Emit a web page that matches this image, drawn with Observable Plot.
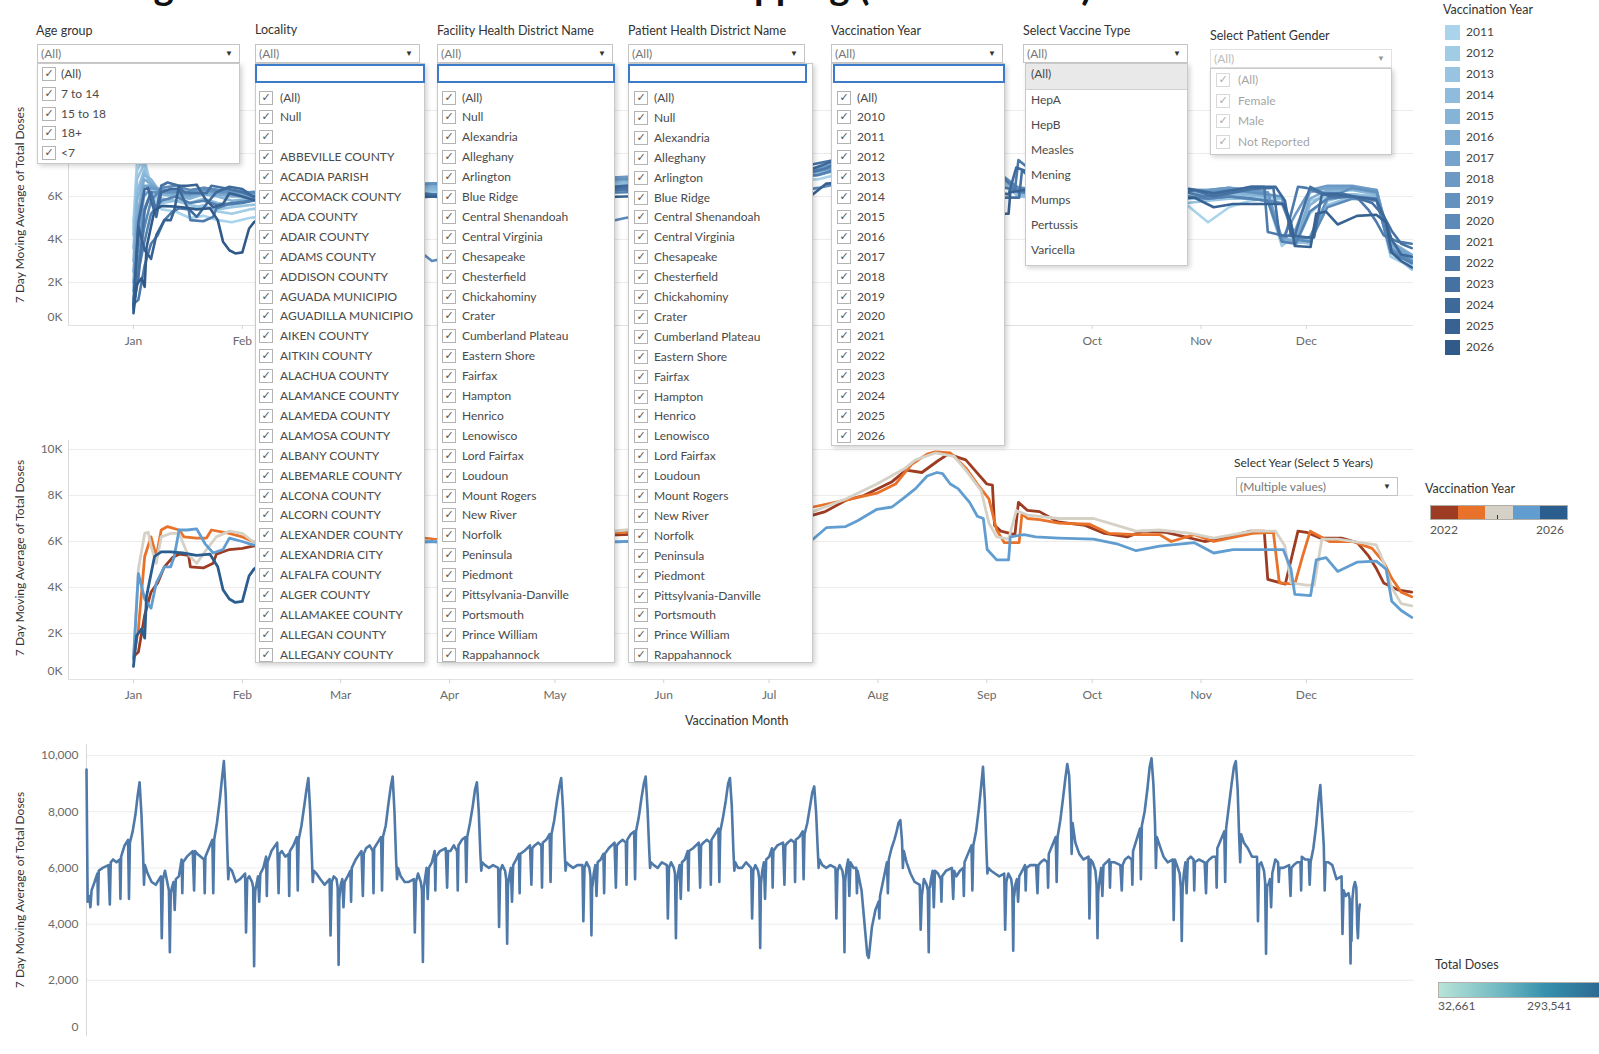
<!DOCTYPE html>
<html><head><meta charset="utf-8">
<script src="https://cdn.jsdelivr.net/npm/d3@7"></script>
<script src="https://cdn.jsdelivr.net/npm/@observablehq/plot@0.6"></script>
<style>
html,body{margin:0;padding:0;background:#fff;}
body{width:1599px;height:1054px;overflow:hidden;position:relative;font-family:Lato,"Open Sans",sans-serif;color:#333;}
.chart{position:absolute;left:0;z-index:1;}
#title{position:absolute;left:30px;top:-35px;font:bold 38.5px Lato,sans-serif;color:#111;white-space:nowrap;line-height:40px;z-index:2;}
.t{position:absolute;white-space:nowrap;font-size:12px;line-height:16px;color:#333;z-index:6;}
.dd{position:absolute;height:19px;border:1px solid #c4c4c4;background:#fff;box-sizing:border-box;font-size:12px;line-height:17px;color:#777;padding-left:3px;z-index:6;}
.dd .arr{position:absolute;right:6px;top:0;font-size:8px;color:#333;}
.search{position:absolute;height:19px;border:2px solid #3b7bca;background:#fff;box-sizing:border-box;z-index:7;}
.list{position:absolute;background:#fff;border:1px solid #c9c9c9;box-sizing:border-box;box-shadow:2px 2px 5px rgba(0,0,0,0.18);z-index:5;}
.cb{position:absolute;width:12px;height:12px;border:1px solid #b3b3b3;background:#fff;font-size:11px;line-height:12px;text-align:center;color:#555;z-index:7;font-family:"DejaVu Sans",sans-serif;}
.ytitle{position:absolute;width:280px;text-align:center;transform:rotate(-90deg);font-size:12px;line-height:16px;color:#333;white-space:nowrap;z-index:2;}
</style></head>
<body>
<div id="title">Tracking Vaccine Doses Over Time and Mapping (2011 - 2026)</div>
<script>
// ---------------- DATA ----------------
const MONTH_DAYS = [0,31,59,90,120,151,181,212,243,273,304,334];
const MONTH_NAMES = ["Jan","Feb","Mar","Apr","May","Jun","Jul","Aug","Sep","Oct","Nov","Dec"];
const TOP_VISIBLE_MONTHS = [0,31,273,304,334];   // month ticks of the top chart not hidden by the filter lists
const Y_TICKS = [0,2000,4000,6000,8000,10000];
const TOP_VISIBLE_Y = [2000,4000,6000];          // y labels of the top chart not hidden by the Age group list

const LEGEND_YEARS = ["2011","2012","2013","2014","2015","2016","2017","2018","2019","2020","2021","2022","2023","2024","2025","2026"];

// Top chart: years 2011-2021 at shared key days (values in thousands)
const TOP_DAYS = [0,1,3,5,8,12,16,20,24,28,33,60,85,140,195,215,230,245,252,275,300,306,312,318,323,327,331,335,340,347,354,358,364];
const TOP_2011 = [4.8,7.6,7.4,6.2,5.4,5.3,5.0,5.1,4.9,4.8,5.0, 5.6,6.0,6.2,6.8,7.6,8.7,7.0,6.0,5.7, 5.6,4.8,5.5,5.8,5.9,4.0,3.8,5.2,6.0,6.1,6.0,3.6,2.8];
const TOP_2012 = [4.5,7.2,7.8,6.5,5.6,5.5,5.4,5.6,5.3,5.2,5.4, 5.9,6.2,6.3,7.0,7.9,9.2,7.2,6.2,6.0, 5.9,5.9,6.0,5.9,5.8,3.7,4.2,5.8,6.0,6.1,5.9,3.2,2.7];
const TOP_2013 = [4.2,6.8,7.5,6.4,5.7,5.8,5.6,5.5,5.4,5.5,5.6, 6.0,6.3,6.5,7.0,7.8,8.9,7.0,6.0,5.8, 5.7,5.8,5.9,5.9,5.8,5.9,3.9,3.8,5.6,6.0,5.9,3.4,2.6];
const TOP_2014 = [3.6,6.2,7.2,6.6,5.9,5.8,5.7,5.9,5.7,5.6,5.8, 6.1,6.3,6.6,7.1,8.0,9.0,7.1,6.1,5.9, 6.0,6.0,6.1,6.0,6.0,5.9,3.8,4.0,5.8,6.1,6.0,3.5,2.9];
const TOP_2015 = [3.0,5.8,7.0,6.8,6.1,6.0,5.9,6.1,6.0,5.8,5.9, 6.2,6.4,6.7,7.1,7.9,8.8,7.2,6.3,6.1, 6.2,6.1,6.2,6.1,6.0,4.0,3.9,5.6,6.2,6.3,6.1,3.7,3.1];
const TOP_2016 = [2.5,5.0,6.8,6.6,6.2,6.1,6.0,6.2,6.1,6.0,6.0, 6.3,6.5,6.8,7.2,8.0,8.9,7.2,6.3,6.2, 6.3,6.2,6.3,6.2,6.1,4.1,3.9,5.9,6.3,6.4,6.2,3.9,3.3];
const TOP_2017 = [2.0,4.6,6.5,6.5,6.3,6.2,6.1,6.3,6.2,6.1,6.1, 6.3,6.6,6.9,7.3,8.1,9.0,7.3,6.4,6.2, 6.3,6.3,6.4,6.3,6.2,3.9,4.5,6.2,6.4,6.4,6.3,3.8,3.2];
const TOP_2018 = [1.6,4.0,6.0,6.4,6.3,6.3,6.2,6.4,6.3,6.2,6.2, 6.4,6.6,6.9,7.3,8.1,9.0,7.2,6.3,6.2, 6.3,6.3,6.4,6.3,6.2,4.0,5.2,6.3,6.5,6.5,6.3,3.6,3.0];
const TOP_2019 = [1.2,3.2,5.4,6.2,6.2,6.2,6.1,6.3,6.2,6.2,6.2, 6.4,6.6,6.8,7.2,7.9,8.8,7.2,6.3,6.2, 6.3,6.2,6.3,6.2,6.1,6.0,4.0,4.1,5.9,6.4,6.2,3.5,2.9];
const TOP_2020 = [0.9,2.6,4.5,5.8,6.4,6.5,6.3,6.4,6.3,6.3,6.2, 6.2,3.0,5.0,6.4,7.1,7.6,7.2,6.4,6.1, 6.0,5.9,6.0,5.9,5.8,5.7,4.0,3.9,5.5,5.9,5.8,3.5,3.0];
const TOP_2021 = [0.7,2.2,3.8,5.2,5.8,6.0,5.7,5.8,5.6,5.7,5.8, 5.9,6.0,6.2,7.0,8.0,9.3,7.3,6.2,6.0, 6.0,5.9,6.0,5.9,5.8,3.9,3.8,5.3,5.9,6.0,5.9,3.4,2.9];

// Middle chart (also used for 2022-2026 in the top chart): [day of year, thousands]
const MID_2022 = [[0,1.0],[1.4,1.2],[3.2,2.8],[5,3.8],[6.9,4.2],[8.8,4.9],[11.1,5.3],[13,5.45],[15.7,5.4],[16.2,4.9],[19.9,4.85],[22.7,5.05],[23.6,5.45],[27.3,5.65],[31,5.7],[34,5.8],
 [45,5.9],[60,6.0],[75,6.1],[85,6.1],[100,5.9],[120,6.2],[140,6.3],[160,6.5],[180,6.8],
 [193.5,7.15],[197,7.3],[203,7.8],[208,8.0],[216,8.6],[220,9.1],[224.5,9.0],[229,9.5],[232,9.8],[237,9.55],[239,9.2],[243,8.5],[244.6,8.45],[245.2,6.7],[247,6.45],[251,6.3],[252,7.7],[254.6,7.35],[258,7.3],[263.3,6.85],[271,6.7],[276.5,6.35],[283,6.2],[287.4,6.45],[294,6.4],[299.5,6.2],[305,6.0],[310.5,6.15],[318,6.45],[322,6.45],[323,4.35],[328,4.15],[329,4.8],[331.6,6.45],[334,6.4],[337.9,6.15],[344,6.15],[348.5,5.95],[351.8,5.35],[354,4.8],[356,4.2],[360,3.9],[364,3.8]];
const MID_2023 = [[0,0.9],[1.4,2.2],[3.2,5.35],[5,6.2],[6.5,5.35],[7.9,6.5],[9.7,6.65],[13,6.5],[14.4,6.2],[18,6.15],[20.8,6.15],[22.2,6.5],[27.3,6.35],[31,6.2],[34,6.0],
 [45,6.1],[60,6.2],[75,6.3],[85,6.1],[100,6.0],[120,6.3],[140,6.4],[160,6.6],[180,7.0],
 [193.5,7.5],[202.8,7.8],[211.7,8.1],[217,8.5],[221.6,9.35],[226,9.8],[228.3,9.9],[232.6,9.85],[233.7,9.7],[237,9.2],[240.3,8.5],[243.6,7.85],[245.8,6.5],[248,5.95],[252.2,5.95],[253,7.2],[254.6,7.0],[258,6.95],[263.5,6.8],[272.3,6.75],[277.8,6.35],[285.5,6.3],[292.2,6.3],[295.5,6.0],[302.1,6.3],[307.6,6.0],[318.6,6.35],[324.6,6.4],[326.3,4.2],[330.7,4.15],[332.9,5.35],[335.1,6.45],[340.6,6.0],[347.2,6.0],[352.7,5.7],[356,5.1],[358.3,4.4],[361,3.8],[364,3.6]];
const MID_2024 = [[0,0.8],[1.4,4.8],[3.2,6.35],[4.2,6.4],[5,5.8],[6.5,5.05],[7.9,6.2],[10.6,6.35],[13,6.35],[15.3,5.5],[18,5.05],[20.8,5.65],[23.6,6.2],[27.3,6.45],[31,6.35],[34,6.0],
 [45,6.0],[60,6.1],[75,6.2],[85,6.0],[100,6.1],[120,6.2],[140,6.5],[160,6.7],[180,7.0],
 [193.5,7.3],[202.8,7.85],[211.7,8.5],[219.4,9.15],[222.7,9.55],[228.3,9.85],[233.7,9.7],[237,9.1],[241.4,8.2],[243.6,6.8],[245.8,6.2],[249.2,6.1],[251.4,7.35],[254.6,7.15],[263.5,7.0],[273.4,7.0],[280,6.7],[285.5,6.45],[292.2,6.5],[301,6.35],[307.6,6.15],[318.6,6.45],[325.2,6.45],[327.9,5.8],[329.6,4.2],[334,4.1],[336.2,4.1],[338.4,6.1],[342.9,6.1],[349.5,5.95],[353.9,5.85],[356,5.1],[358.3,4.0],[361,3.3],[364,3.2]];
const MID_2025 = [[0,0.9],[1.4,4.6],[3.2,3.5],[5,3.1],[6.5,4.2],[8.8,4.9],[10.6,4.9],[11.6,5.35],[13,6.5],[15.3,6.5],[18,6.55],[20.4,5.9],[22.7,5.5],[25.5,5.65],[27.3,6.15],[31,6.0],[34,5.85],
 [45,5.9],[60,6.0],[75,5.9],[85,6.0],[100,5.8],[120,5.9],[140,6.0],[160,6.0],[180,6.1],
 [193.5,6.1],[197.3,6.6],[202.8,6.65],[206.2,6.9],[211.7,7.4],[216,7.5],[219.4,7.9],[222.7,8.3],[226,8.85],[228.8,9.0],[230.4,8.95],[232.6,8.5],[234.8,8.3],[238.1,7.7],[240.3,7.1],[242,7.0],[243.1,5.65],[245.8,5.2],[249.2,5.2],[249.7,6.2],[253.6,6.3],[256.9,6.2],[263.5,6.15],[273.4,6.1],[280,5.9],[285.5,5.6],[292.2,5.8],[302.1,5.95],[307.6,5.5],[313.1,5.65],[327.4,5.65],[329.6,4.8],[330.7,3.7],[335.2,3.65],[336.8,5.2],[339.6,5.3],[342.9,4.7],[348.4,5.1],[353.9,5.15],[356.7,4.8],[358.3,3.4],[361,3.0],[364,2.7]];
const MID_2026 = [[0,0.57],[0.9,1.9],[2.3,2.2],[3.2,1.8],[3.7,3.6],[5,4.6],[6,5.35],[7.9,5.55],[10.6,5.55],[14,5.5],[18,5.4],[21.8,5.45],[24,4.9],[25.5,3.9],[27.3,3.5],[29,3.35],[31,3.4],[32.9,4.5],[34.3,4.8],[38,5.2],[42,5.3]];
const MID_YEARS = ["2022","2023","2024","2025","2026"];
const MID_COLORS = ["#9d3c22","#e9722a","#d6d1c7","#619dd0","#2b5d8f"];

// Bottom chart: daily 7-day moving average, key days per year (thousands)
const BOTTOM_DAYS = [0,5,12,17,22, 35,47,50,53, 70,95,101,105, 115,130,144,147, 150,165,180,184, 188,200,212,222, 230,238,245,249, 253,265,282,300, 322,326,331,340, 352,357,361,364];
const BOT_2011 = [9.5,4.8,5.0,4.6,5.2, 5.5,5.8,4.7,5.9, 6.0,6.1,4.7,6.2, 6.3,6.2,6.3,4.9, 6.4,6.8,7.0,4.9, 6.9,7.3,7.9,8.6, 9.05,7.9,6.5,5.4, 6.1,5.8,5.5,5.4, 5.7,3.5,5.6,5.9, 5.4,5.2,3.0,4.7];
const BOT_2012 = [5.1,5.3,5.5,4.5,5.6, 5.7,6.3,5.1,6.2, 6.4,6.6,5.2,6.6, 6.5,6.4,6.3,5.1, 6.4,6.7,7.0,5.1, 7.0,7.6,8.4,9.2, 9.8,8.6,6.6,5.6, 6.0,5.9,5.5,5.6, 5.8,3.7,5.6,5.7, 5.5,5.3,2.5,4.8];
const BOT_2013 = [5.2,5.4,5.7,4.8,5.8, 6.0,6.4,5.0,6.2, 6.6,6.9,5.1,6.5, 6.6,6.4,6.5,5.0, 6.6,6.8,7.1,5.2, 7.0,7.5,8.2,8.8, 9.2,8.0,6.4,5.5, 5.9,5.8,5.6,5.4, 5.6,3.6,5.5,5.7, 5.6,5.3,2.55,4.9];
const BOT_2014 = [5.0,5.4,5.6,4.6,5.5, 5.7,5.9,4.8,6.0, 6.3,6.6,5.0,6.5, 6.7,6.8,6.6,5.1, 6.7,6.9,7.1,5.2, 7.1,7.5,8.3,8.9, 9.25,8.0,6.3,5.6, 6.0,5.7,5.5,5.5, 5.6,3.7,5.5,5.8, 5.5,5.2,2.65,5.0];
const BOT_2015 = [5.3,5.6,6.0,4.9,6.0, 6.2,6.6,5.2,6.4, 6.6,6.7,5.3,6.6, 6.6,6.8,6.6,5.2, 6.8,7.0,7.1,5.5, 7.1,7.6,8.2,8.8, 9.05,8.0,6.5,5.9, 6.2,6.1,6.0,6.1, 6.0,3.9,5.9,6.1, 5.9,5.6,3.3,5.2];
const BOT_2016 = [5.4,5.7,6.0,4.8,6.1, 6.3,6.5,5.1,6.5, 6.6,6.8,5.4,6.7, 6.8,6.9,6.8,5.3, 6.9,7.0,7.2,5.5, 7.2,7.7,8.4,8.9, 9.2,8.1,6.6,5.9, 6.2,6.1,6.0,6.1, 6.1,4.1,6.0,6.2, 6.0,5.7,3.6,5.3];
const BOT_2017 = [5.4,5.8,6.1,5.0,6.2, 6.3,6.5,5.1,6.5, 6.7,6.9,5.3,6.8, 6.9,7.0,6.9,5.4, 7.0,7.2,7.3,5.6, 7.3,7.8,8.5,9.0, 9.25,8.1,6.7,6.0, 6.2,6.1,6.0,6.2, 6.1,4.2,6.0,6.2, 6.0,5.8,3.5,5.3];
const BOT_2018 = [5.5,5.8,6.1,4.9,6.2, 6.3,6.6,5.2,6.6, 6.7,6.9,5.3,6.8, 6.9,7.0,6.9,5.4, 7.0,7.2,7.4,5.5, 7.3,7.8,8.4,9.0, 9.2,8.2,6.6,5.9, 6.2,6.0,6.0,6.2, 6.0,4.2,5.9,6.1, 5.9,5.6,3.15,5.4];
const BOT_2019 = [5.5,5.9,6.2,4.9,6.3, 6.4,6.7,5.3,6.6, 6.8,6.9,5.4,6.8, 6.9,7.0,6.9,5.5, 7.0,7.1,7.3,5.6, 7.2,7.6,8.2,8.7, 8.9,8.0,6.7,6.0, 6.3,6.1,6.0,6.1, 6.0,4.2,5.9,6.1, 5.9,5.6,3.0,5.5];
const BOT_2020 = [5.6,6.0,6.3,5.0,6.2, 6.0,6.0,5.1,5.9, 5.2,2.9,2.8,3.1, 3.9,4.5,4.8,4.2, 5.0,5.6,6.2,5.1, 6.3,6.7,7.0,7.3, 7.6,7.7,7.0,6.0, 6.6,6.2,5.8,5.5, 5.4,3.8,5.0,5.6, 5.4,5.2,3.0,5.3];
const BOT_2021 = [5.3,5.6,5.9,4.6,5.9, 5.8,5.6,4.8,5.7, 5.9,6.0,4.9,5.9, 5.7,5.9,6.0,5.0, 6.2,6.5,6.8,5.2, 6.8,7.3,8.1,8.9, 9.6,8.4,6.6,5.8, 6.0,5.9,5.8,5.7, 5.8,3.8,5.5,5.8, 5.6,5.3,3.05,5.2];
const BOT_2022 = [5.0,5.4,5.6,4.8,5.7, 5.9,6.1,5.2,6.0, 6.1,6.1,5.1,6.1, 6.2,6.3,6.2,5.3, 6.5,6.8,7.1,5.5, 7.1,7.7,8.5,9.2, 9.7,9.3,8.0,6.5, 7.6,6.9,6.5,6.3, 6.4,4.2,6.3,6.2, 5.9,5.4,3.5,5.1];
const BOT_2023 = [5.2,5.6,6.0,5.0,6.1, 6.2,6.3,5.3,6.2, 6.2,6.1,5.2,6.1, 6.3,6.4,6.3,5.4, 6.6,7.0,7.4,5.6, 7.5,8.0,8.8,9.6, 9.9,9.0,7.6,6.0, 7.1,6.8,6.4,6.2, 6.3,4.15,6.3,6.1, 5.8,5.3,3.4,5.0];
const BOT_2024 = [5.3,5.8,6.2,5.1,6.3, 6.4,6.3,5.2,6.2, 6.3,6.2,5.1,6.2, 6.3,6.4,6.4,5.3, 6.7,7.0,7.3,5.5, 7.4,8.2,9.0,9.6, 9.8,8.8,7.0,6.2, 7.2,6.9,6.7,6.4, 6.4,4.1,6.1,6.2, 5.9,5.5,2.95,4.9];
const BOT_2025 = [5.4,5.4,5.6,4.6,5.8, 6.3,6.2,5.5,6.0, 6.0,6.1,5.0,6.0, 6.1,6.2,6.2,5.2, 6.4,6.3,6.3,5.4, 6.2,6.7,7.5,8.4, 8.95,7.8,6.8,5.2, 6.2,6.2,6.1,5.6, 5.7,3.65,5.2,5.0, 5.1,4.9,2.6,4.6];
const BOT_2026_DAYS = [0,4,9,15,21,25,28,32,36];
const BOT_2026 = [3.4,4.9,5.3,5.5,5.3,3.9,3.5,4.4,4.7];

// Filter lists
const AGE_ITEMS = ["(All)","7 to 14","15 to 18","18+","<7"];
const LOCALITY_ITEMS = ["(All)","Null","","ABBEVILLE COUNTY","ACADIA PARISH","ACCOMACK COUNTY","ADA COUNTY","ADAIR COUNTY","ADAMS COUNTY","ADDISON COUNTY","AGUADA MUNICIPIO","AGUADILLA MUNICIPIO","AIKEN COUNTY","AITKIN COUNTY","ALACHUA COUNTY","ALAMANCE COUNTY","ALAMEDA COUNTY","ALAMOSA COUNTY","ALBANY COUNTY","ALBEMARLE COUNTY","ALCONA COUNTY","ALCORN COUNTY","ALEXANDER COUNTY","ALEXANDRIA CITY","ALFALFA COUNTY","ALGER COUNTY","ALLAMAKEE COUNTY","ALLEGAN COUNTY","ALLEGANY COUNTY"];
const DISTRICT_ITEMS = ["(All)","Null","Alexandria","Alleghany","Arlington","Blue Ridge","Central Shenandoah","Central Virginia","Chesapeake","Chesterfield","Chickahominy","Crater","Cumberland Plateau","Eastern Shore","Fairfax","Hampton","Henrico","Lenowisco","Lord Fairfax","Loudoun","Mount Rogers","New River","Norfolk","Peninsula","Piedmont","Pittsylvania-Danville","Portsmouth","Prince William","Rappahannock"];
const YEAR_FILTER_ITEMS = ["(All)","2010","2011","2012","2013","2014","2015","2016","2017","2018","2019","2020","2021","2022","2023","2024","2025","2026"];
const VACCINE_ITEMS = ["(All)","HepA","HepB","Measles","Mening","Mumps","Pertussis","Varicella"];
const GENDER_ITEMS = ["(All)","Female","Male","Not Reported"];
const TOTAL_DOSES_RANGE = ["32,661","293,541"];

// ---------------- STYLE ----------------
const TOP_COLORS = ["#a9d4eb","#a1cce6","#98c4e1","#8fbcdc","#86b4d7","#7dabd1","#74a3cb","#6c9ac5","#6492bf","#5c8ab9","#5482b2","#4c7aab","#4572a3","#3e6a9b","#376292","#305a89"];
const FONT = "Lato, 'Open Sans', sans-serif";

// ---------------- BUILD DATA ----------------
const TOP_ROWS = [TOP_2011,TOP_2012,TOP_2013,TOP_2014,TOP_2015,TOP_2016,TOP_2017,TOP_2018,TOP_2019,TOP_2020,TOP_2021];
const MID_ROWS = [MID_2022,MID_2023,MID_2024,MID_2025,MID_2026];
const topData = [];
TOP_ROWS.forEach((row,i)=>row.forEach((v,j)=>topData.push({year:LEGEND_YEARS[i], day:TOP_DAYS[j], v:v*1000})));
const midData = [];
MID_ROWS.forEach((row,i)=>row.forEach(([d,v])=>midData.push({year:MID_YEARS[i], day:d, v:v*1000})));
midData.forEach(p=>topData.push(p));

const BOT_ROWS = [BOT_2011,BOT_2012,BOT_2013,BOT_2014,BOT_2015,BOT_2016,BOT_2017,BOT_2018,BOT_2019,BOT_2020,BOT_2021,BOT_2022,BOT_2023,BOT_2024,BOT_2025];
const botData = [];
BOT_ROWS.forEach((row,i)=>row.forEach((v,j)=>botData.push({date:new Date(2011+i,0,1+BOTTOM_DAYS[j]), v:v*1000})));
BOT_2026.forEach((v,j)=>botData.push({date:new Date(2026,0,1+BOT_2026_DAYS[j]), v:v*1000}));

// ---------------- CHARTS ----------------
function place(node, top){ const d=document.createElement("div"); d.className="chart"; d.style.top=top+"px"; d.appendChild(node); document.body.appendChild(d); }
const baseStyle = {fontFamily:FONT, fontSize:"12px", color:"#6a6a6a", background:"transparent", overflow:"visible"};
const monthFmt = d => MONTH_NAMES[MONTH_DAYS.indexOf(d)];
const kFmt = d => (d/1000)+"K";

function seasonal(data, years, colors, height, mTop, mBottom, monthTicks, yTicks, sw){
  return Plot.plot({
    width:1430, height, marginLeft:68, marginRight:17, marginTop:mTop, marginBottom:mBottom,
    style: baseStyle,
    x:{domain:[-18.5,364.5]},
    y:{domain:[0,10400]},
    color:{type:"ordinal", domain:years, range:colors},
    marks:[
      Plot.gridY(Y_TICKS.slice(1), {stroke:"#ececec", strokeOpacity:1}),
      Plot.ruleX([-18.5], {stroke:"#d9d9d9"}),
      Plot.ruleY([0], {stroke:"#e2e2e2"}),
      Plot.ruleX(MONTH_DAYS, {y1:0, y2:-180, stroke:"#d4d4d4"}),
      Plot.line(data, {x:"day", y:"v", z:"year", stroke:"year", strokeWidth:sw, strokeLinejoin:"round"}),
      Plot.axisY({ticks:yTicks, tickFormat:kFmt, tickSize:0, tickPadding:6, label:null}),
      Plot.axisY({ticks:[0], tickFormat:kFmt, tickSize:0, tickPadding:6, label:null, dy:-8}),
      Plot.axisX({ticks:monthTicks, tickFormat:monthFmt, tickSize:0, tickPadding:11, label:null})
    ]
  });
}
place(seasonal(topData, LEGEND_YEARS, TOP_COLORS, 260, 11.4, 25, TOP_VISIBLE_MONTHS, TOP_VISIBLE_Y, 2.6), 90);
place(seasonal(midData, MID_YEARS, MID_COLORS, 280, 9.8, 31, MONTH_DAYS, Y_TICKS.slice(1), 2.8), 430);

const bottom = Plot.plot({
  width:1430, height:330, marginLeft:86, marginRight:16, marginTop:8.8, marginBottom:29,
  style: baseStyle,
  x:{type:"time", domain:[new Date(2011,0,1), new Date(2026,9,1)], axis:null},
  y:{domain:[0,10400]},
  marks:[
    Plot.gridY(Y_TICKS.slice(1), {stroke:"#ececec", strokeOpacity:1}),
    Plot.ruleX([new Date(2011,0,1)], {stroke:"#d9d9d9"}),
    Plot.line(botData, {x:"date", y:"v", stroke:"#4e79a8", strokeWidth:2.6, strokeLinejoin:"round"}),
    Plot.axisY({ticks:Y_TICKS.slice(1), tickFormat:d3.format(","), tickSize:0, tickPadding:8, label:null}),
    Plot.axisY({ticks:[0], tickFormat:d3.format(","), tickSize:0, tickPadding:8, label:null, dy:-9})
  ]
});
place(bottom, 735);

// ---------------- HTML TEXT / CONTROLS ----------------
function el(cls, style, text, tag){ const e=document.createElement(tag||"div"); if(cls) e.className=cls; Object.assign(e.style, style); if(text!=null) e.textContent=text; document.body.appendChild(e); return e; }
const px = v => v+"px";

// y-axis titles
[[205],[558],[890]].forEach(([cy])=>el("ytitle",{left:px(20-140), top:px(cy-8)},"7 Day Moving Average of Total Doses"));
el("t",{left:px(685), top:px(713), fontSize:"12.5px"},"Vaccination Month");

function dropdown(l,r,t,text,op){
  const d=el("dd",{left:px(l), top:px(t), width:px(r-l), opacity:op||1}, text);
  const a=document.createElement("span"); a.className="arr"; a.textContent="▼"; d.appendChild(a);
}
function checkbox(x,yc,op){ el("cb",{left:px(x), top:px(yc-7), opacity:op||1},"✓"); }

function filter(cfg){
  const op = cfg.op||1;
  el("t",{left:px(cfg.tx), top:px(cfg.ty-8), fontSize:"12.5px"}, cfg.title);
  dropdown(cfg.dd[0], cfg.dd[1], cfg.dd[2], "(All)", op);
  el("list",{left:px(cfg.list[0]), top:px(cfg.list[2]), width:px(cfg.list[1]-cfg.list[0]), height:px(cfg.list[3]-cfg.list[2])});
  if(cfg.search) el("search",{left:px(cfg.search[0]), top:px(cfg.search[2]), width:px(cfg.search[1]-cfg.search[0])});
  cfg.items.forEach((name,i)=>{
    const yc = cfg.y0 + i*cfg.step;
    checkbox(cfg.cbX, yc, op);
    if(name) el("t",{left:px(cfg.textX), top:px(yc-8), color:"#4a4a4a", opacity:op}, name);
  });
}
filter({title:"Age group", tx:36, ty:31, dd:[37,240,44], list:[37,240,63,164], items:AGE_ITEMS, y0:74, step:19.8, cbX:42, textX:61});
filter({title:"Locality", tx:255, ty:30, dd:[255,420,44], search:[255,425,64], list:[255,425,63,663], items:LOCALITY_ITEMS, y0:97.5, step:19.9, cbX:259, textX:280});
filter({title:"Facility Health District Name", tx:437, ty:31, dd:[437,613,44], search:[437,615,64], list:[437,615,63,663], items:DISTRICT_ITEMS, y0:97.5, step:19.9, cbX:442, textX:462});
filter({title:"Patient Health District Name", tx:628, ty:31, dd:[628,805,44], search:[628,807,64], list:[628,813,63,663], items:DISTRICT_ITEMS, y0:98, step:19.9, cbX:634, textX:654});
filter({title:"Vaccination Year", tx:831, ty:31, dd:[831,1003,44], search:[833,1005,64], list:[831,1005,63,446], items:YEAR_FILTER_ITEMS, y0:97.5, step:19.9, cbX:837, textX:857});
filter({title:"Select Patient Gender", tx:1210, ty:36, dd:[1210,1392,49], list:[1210,1392,68,155], items:GENDER_ITEMS, y0:80, step:20.7, cbX:1216, textX:1238, op:0.5});

// vaccine type (single select list)
el("t",{left:px(1023), top:px(23), fontSize:"12.5px"},"Select Vaccine Type");
dropdown(1023,1188,44,"(All)");
el("list",{left:px(1025), top:px(63), width:px(163), height:px(203)});
el("t",{left:px(1026), top:px(64), width:px(161), height:px(25), background:"#e9e9e9", borderBottom:"1px solid #cfcfcf", zIndex:6},"");
VACCINE_ITEMS.forEach((name,i)=>{
  const yc = i===0 ? 74 : 100 + (i-1)*25;
  el("t",{left:px(1031), top:px(yc-8), color:"#4a4a4a", zIndex:7}, name);
});

// top-right legend
el("t",{left:px(1443), top:px(2), fontSize:"12.5px"},"Vaccination Year");
LEGEND_YEARS.forEach((y,i)=>{
  const yc = 32 + i*21;
  el("t",{left:px(1445), top:px(yc-7), width:px(15), height:px(15), background:TOP_COLORS[i]},"");
  el("t",{left:px(1466), top:px(yc-8), color:"#444"}, y);
});

// select year control
el("t",{left:px(1234), top:px(455)},"Select Year (Select 5 Years)");
dropdown(1236,1398,477,"(Multiple values)");
// middle legend
el("t",{left:px(1425), top:px(481), fontSize:"12.5px"},"Vaccination Year");
const ramp = el("t",{left:px(1430), top:px(505), width:px(138), height:px(15), border:"1px solid #b0aca6", display:"flex", boxSizing:"border-box"},"");
MID_COLORS.forEach(c=>{ const s=document.createElement("div"); s.style.flex="1"; s.style.background=c; ramp.appendChild(s); });
el("t",{left:px(1497), top:px(515), width:px(1), height:px(4), background:"#333"},"");
el("t",{left:px(1430), top:px(522), color:"#555"}, MID_YEARS[0]);
el("t",{left:px(1536), top:px(522), color:"#555"}, MID_YEARS[4]);

// total doses legend
el("t",{left:px(1435), top:px(957), fontSize:"12.5px"},"Total Doses");
el("t",{left:px(1438), top:px(982), width:px(180), height:px(16), border:"1px solid #b5b1aa", boxSizing:"border-box", background:"linear-gradient(to right,#b9e3d7,#6fb8c2 35%,#3590ad 60%,#2b5d8a 100%)"},"");
el("t",{left:px(1438), top:px(998), color:"#555"}, TOTAL_DOSES_RANGE[0]);
el("t",{left:px(1527), top:px(998), color:"#555"}, TOTAL_DOSES_RANGE[1]);
</script>
</body></html>
